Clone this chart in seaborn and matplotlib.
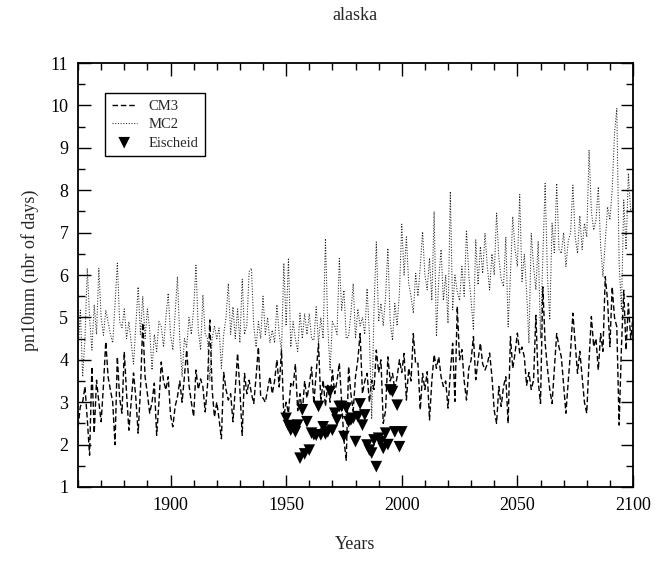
import numpy as np
import pandas as pd
import matplotlib
matplotlib.use("Agg")
import matplotlib.pyplot as plt
from matplotlib.ticker import MultipleLocator
import seaborn as sns

# Annual number of days with precipitation above 10 mm, Alaska
years = list(range(1860, 2101))

cm3 = [
    2.42, 2.9, 3.0, 3.37, 2.6, 1.75, 3.84, 2.27, 3.52, 3.0,
    2.54, 3.4, 4.43, 3.6, 3.29, 3.0, 2.0, 4.07, 3.1, 2.74,
    4.19, 3.2, 2.34, 3.0, 3.69, 3.1, 2.27, 3.3, 4.87, 3.6,
    3.2, 2.74, 3.0, 3.45, 2.22, 3.0, 3.95, 3.5, 3.29, 3.6,
    2.7, 2.42, 2.9, 3.13, 3.5, 3.0, 3.6, 4.23, 3.4, 3.0,
    2.66, 3.76, 3.3, 3.55, 3.36, 2.77, 3.4, 4.94, 3.3, 2.65,
    3.0, 2.6, 2.14, 3.7, 3.3, 3.05, 3.2, 2.54, 3.3, 4.15,
    3.3, 2.22, 3.68, 3.2, 3.52, 3.2, 2.97, 3.6, 4.3, 3.12,
    3.1, 3.0, 3.3, 3.6, 3.2, 3.5, 4.0, 3.36, 4.23, 2.65,
    3.0, 2.74, 3.44, 3.36, 3.9, 2.8, 3.2, 2.73, 3.5, 3.1,
    3.4, 3.83, 2.97, 3.7, 4.38, 3.0, 3.52, 2.9, 3.4, 3.0,
    3.76, 3.2, 3.5, 3.92, 3.0, 2.1, 1.63, 3.84, 3.2, 2.8,
    3.6, 4.0, 4.62, 3.2, 3.5, 3.68, 3.0, 3.52, 3.3, 4.23,
    3.7, 4.0, 2.5, 2.8, 4.07, 3.5, 3.68, 3.3, 3.6, 4.0,
    3.7, 4.15, 3.05, 3.8, 3.5, 4.62, 3.9, 3.92, 2.82, 3.68,
    3.3, 3.72, 2.58, 3.5, 4.12, 3.8, 4.07, 3.6, 3.37, 3.5,
    2.86, 3.7, 4.39, 3.02, 5.26, 4.0, 4.24, 3.5, 3.05, 3.8,
    4.0, 4.55, 3.53, 4.0, 4.39, 3.9, 3.76, 3.9, 4.16, 3.6,
    2.8, 2.5, 3.37, 2.9, 3.37, 3.6, 2.5, 4.55, 3.8, 4.16,
    4.63, 4.16, 4.3, 4.07, 3.4, 3.7, 3.3, 3.52, 5.05, 3.5,
    2.97, 5.72, 4.4, 3.8, 3.3, 2.97, 3.8, 4.62, 4.3, 4.07,
    3.4, 2.74, 3.5, 4.2, 5.1, 4.4, 3.68, 4.2, 3.6, 3.0,
    2.74, 4.0, 5.02, 4.31, 4.5, 3.76, 4.62, 4.2, 5.96, 5.4,
    4.31, 5.72, 5.0, 4.78, 2.46, 4.3, 5.64, 4.23, 5.33, 4.5,
    5.0,
]

mc2 = [
    4.2, 5.17, 3.6, 4.5, 6.16, 5.0, 4.23, 5.3, 4.6, 6.16,
    5.0, 4.58, 5.17, 4.9, 4.6, 4.4, 5.3, 6.28, 4.9, 4.76,
    5.2, 4.5, 4.9, 4.4, 3.9, 4.8, 5.72, 4.6, 5.5, 4.5,
    5.2, 4.7, 3.76, 4.6, 4.2, 4.9, 4.78, 4.3, 5.0, 5.57,
    4.6, 4.23, 5.1, 5.96, 4.5, 3.6, 4.5, 4.3, 5.0, 4.6,
    5.2, 6.23, 4.7, 4.23, 5.53, 4.6, 4.5, 3.5, 4.5, 4.8,
    4.5, 4.75, 3.8, 4.6, 5.0, 5.8, 4.6, 5.25, 4.5, 5.2,
    4.4, 5.9, 4.6, 4.8, 6.08, 6.16, 4.8, 4.3, 4.9, 4.5,
    5.5, 4.6, 5.0, 4.4, 4.7, 4.4, 5.3, 4.6, 4.2, 6.28,
    4.8, 6.4, 4.3, 4.9, 4.5, 4.2, 5.1, 4.5, 5.09, 4.6,
    5.09, 4.5, 4.46, 5.25, 4.4, 5.0, 4.5, 6.86, 4.8, 3.76,
    4.9, 4.8, 4.6, 6.39, 5.17, 5.64, 4.5, 4.54, 5.1, 5.8,
    4.5, 5.2, 4.8, 5.0, 4.6, 5.68, 4.6, 2.6, 5.2, 6.78,
    4.9, 5.33, 4.8, 5.5, 6.63, 4.9, 4.46, 5.33, 4.8, 5.6,
    7.2, 6.0, 6.9, 5.8, 5.5, 5.1, 6.04, 5.5, 6.2, 7.02,
    6.0, 5.65, 6.4, 5.4, 7.5, 4.55, 5.9, 6.6, 5.4, 6.0,
    4.86, 7.97, 5.18, 6.0, 5.6, 5.4, 6.2, 5.5, 7.06, 6.0,
    5.4, 4.7, 6.83, 5.77, 6.67, 6.04, 6.98, 6.2, 5.65, 6.5,
    6.0, 7.46, 6.4, 5.9, 5.73, 6.9, 4.78, 6.0, 7.38, 6.6,
    6.2, 7.9, 5.85, 6.5, 5.6, 4.39, 6.98, 6.2, 5.65, 6.8,
    4.5, 6.4, 8.16, 6.0, 4.94, 7.22, 6.5, 8.16, 6.6, 6.51,
    7.0, 6.2, 6.8, 7.0, 8.12, 6.9, 6.51, 7.4, 6.6, 7.22,
    6.9, 8.95, 7.5, 7.06, 7.3, 8.08, 6.7, 5.96, 6.8, 7.61,
    7.3, 8.0, 9.34, 9.93, 6.27, 5.2, 7.77, 6.6, 8.4, 7.5,
    7.6,
]

obs_years = list(range(1950, 2001))
eischeid = [
    2.62, 2.45, 2.34, 2.42, 2.30, 2.46, 1.68, 2.82, 1.78, 2.54,
    1.87, 2.27, 2.23, 2.22, 2.90, 2.23, 2.42, 2.25, 2.30, 3.25,
    2.34, 2.74, 2.58, 2.90, 2.90, 2.19, 2.86, 2.54, 2.58, 2.62,
    2.07, 2.66, 2.96, 2.46, 2.70, 1.99, 1.87, 1.80, 2.11, 1.48,
    2.15, 2.07, 1.91, 2.27, 2.00, 3.29, 3.25, 2.30, 2.93, 1.95,
    2.30,
]

assert len(cm3) == len(years) and len(mc2) == len(years)
assert len(eischeid) == len(obs_years)

models = pd.DataFrame({"year": years, "CM3": cm3, "MC2": mc2})
obs = pd.DataFrame({"year": obs_years, "Eischeid": eischeid})

sns.set_theme(style="ticks")
plt.rcParams["font.family"] = ["Liberation Serif", "DejaVu Serif"]
plt.rcParams["axes.edgecolor"] = "black"
plt.rcParams["axes.linewidth"] = 1.3

fig = plt.figure(figsize=(6.68, 5.63), dpi=100)
ax = fig.add_axes([0.1168, 0.135, 0.8308, 0.753])

sns.lineplot(data=models, x="year", y="CM3", ax=ax, color="black",
             linewidth=1.0, label="CM3")
ax.lines[-1].set_dashes((4, 2))
sns.lineplot(data=models, x="year", y="MC2", ax=ax, color="#222222",
             linewidth=0.75, label="MC2")
ax.lines[-1].set_dashes((1, 1.6))
sns.scatterplot(data=obs, x="year", y="Eischeid", ax=ax, marker="v",
                color="black", s=70, edgecolor="none", label="Eischeid")

ax.set_xlim(1860, 2100)
ax.set_ylim(1, 11)
ax.xaxis.set_major_locator(MultipleLocator(50))
ax.xaxis.set_minor_locator(MultipleLocator(10))
ax.yaxis.set_major_locator(MultipleLocator(1))
ax.yaxis.set_minor_locator(MultipleLocator(0.5))
ax.tick_params(which="both", direction="in", top=True, right=True,
               color="black", labelsize=13, labelcolor="black")
ax.tick_params(which="major", length=9, width=1.0, pad=7)
ax.tick_params(which="minor", length=5, width=1.0)
ax.set_xticks([1900, 1950, 2000, 2050, 2100])
ax.set_xlabel("")
ax.set_ylabel("")

fig.text(0.532, 0.972, "alaska", ha="center", va="center", fontsize=13)
fig.text(0.532, 0.032, "Years", ha="center", va="center", fontsize=13)
fig.text(0.045, 0.52, "pn10mm (nbr of days)", ha="center", va="center",
         rotation=90, fontsize=13)

leg = ax.legend(loc="upper left", bbox_to_anchor=(0.049, 0.929),
                borderaxespad=0, fancybox=False, framealpha=1,
                edgecolor="black", fontsize=10.5, handlelength=1.7,
                handletextpad=0.8, borderpad=0.45, labelspacing=0.35)
leg.get_frame().set_linewidth(1.0)

fig.savefig("out.png", dpi=100)
